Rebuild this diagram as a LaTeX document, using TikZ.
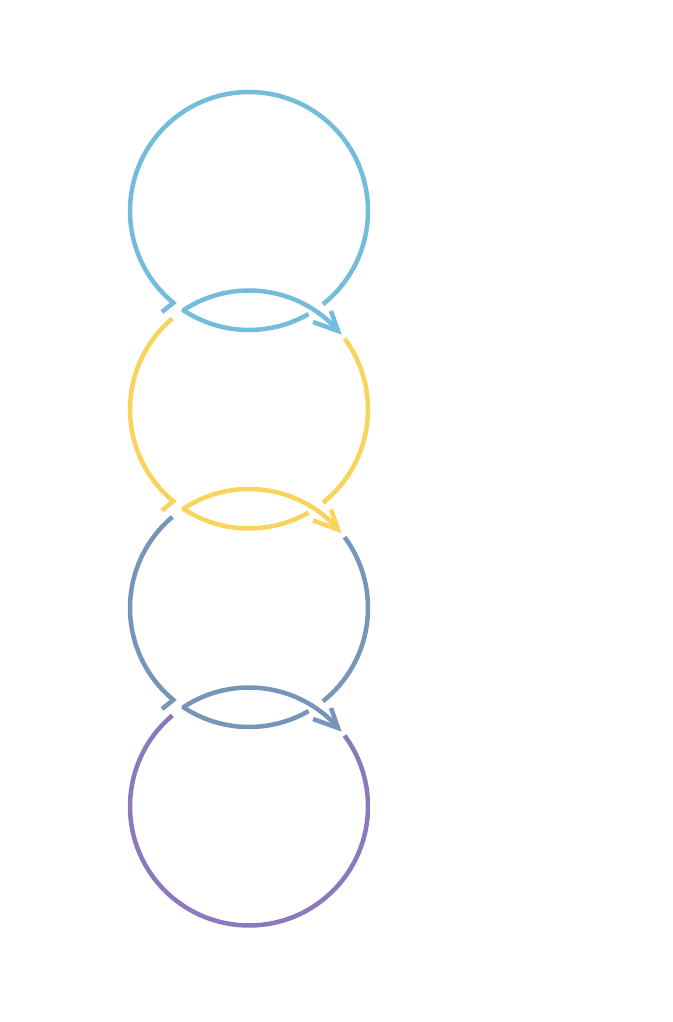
\documentclass[tikz,border=0pt]{standalone}
\usetikzlibrary{calc}
\definecolor{cA}{HTML}{74BCDC}
\definecolor{cB}{HTML}{F9D35C}
\definecolor{cC}{HTML}{7795B9}
\definecolor{cD}{HTML}{8B78BD}
\begin{document}
\begin{tikzpicture}[x=1pt,y=1pt,ring/.style={line width=4.5pt}]
\useasboundingbox[fill=white] (0,0) rectangle (672,1022);
\coordinate (c1) at (249,811);
\coordinate (c2) at (249,612.5);
\coordinate (c3) at (249,414);
\coordinate (c4) at (249,215.5);
% circle 1
\draw[ring,cA] ([shift={(-51.6:119)}]c1) arc[start angle=-51.6,end angle=230.5,radius=119] -- ([shift={(-87,-101)}]c1);
\draw[ring,cA] ([shift={(236:119)}]c1) arc[start angle=236,end angle=300,radius=119];
% circles 2 and 3
\foreach \c/\col in {c2/cB,c3/cC}{
  \draw[ring,\col] ([shift={(130.1:119)}]\c) arc[start angle=130.1,end angle=230.5,radius=119] -- ([shift={(-87,-101)}]\c);
  \draw[ring,\col] ([shift={(236:119)}]\c) arc[start angle=236,end angle=300,radius=119];
  \draw[ring,\col] ([shift={(308.4:119)}]\c) arc[start angle=308.4,end angle=396.6,radius=119];
}
% circle 4
\draw[ring,cD] ([shift={(130.1:119)}]c4) arc[start angle=130.1,end angle=396.6,radius=119];
% arrows
\foreach \n/\col in {c2/cA,c3/cB,c4/cC}{
  \draw[ring,\col] ([shift={(123.9:119)}]\n) arc[start angle=123.9,end angle=41.4,radius=119];
  \draw[ring,\col,line join=miter] ([shift={(82,98.5)}]\n) -- ([shift={(89,78.5)}]\n) -- ([shift={(64,87.5)}]\n);
}
\end{tikzpicture}
\end{document}
